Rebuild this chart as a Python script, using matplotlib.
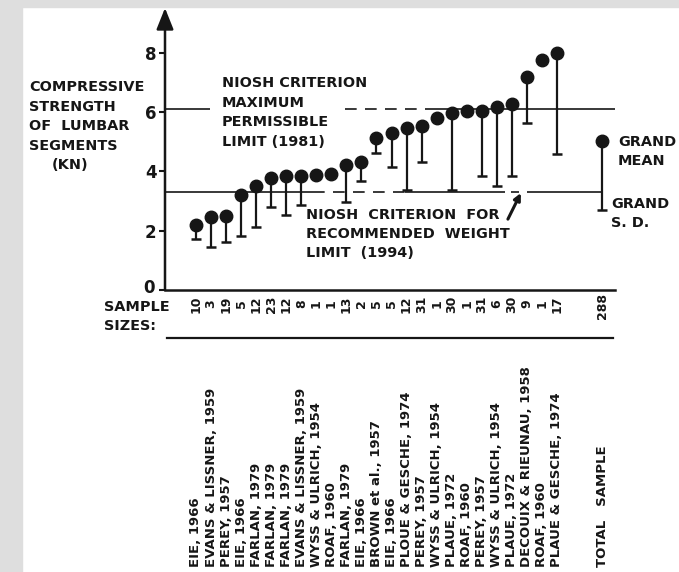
import matplotlib
matplotlib.use("Agg")
import matplotlib.pyplot as plt
import numpy as np
from matplotlib.lines import Line2D
from matplotlib.patches import Rectangle
from matplotlib.transforms import ScaledTranslation, blended_transform_factory

# values
studies = [
    "EIE, 1966", "EVANS & LISSNER, 1959", "PEREY, 1957", "EIE, 1966",
    "FARLAN, 1979", "FARLAN, 1979", "FARLAN, 1979", "EVANS & LISSNER, 1959",
    "WYSS & ULRICH, 1954", "ROAF, 1960", "FARLAN, 1979", "EIE, 1966",
    "BROWN et al., 1957", "EIE, 1966", "PLOUE & GESCHE, 1974", "PEREY, 1957",
    "WYSS & ULRICH, 1954", "PLAUE, 1972", "ROAF, 1960", "PEREY, 1957",
    "WYSS & ULRICH, 1954", "PLAUE, 1972", "DECOUIX & RIEUNAU, 1958",
    "ROAF, 1960", "PLAUE & GESCHE, 1974",
]
sample_sizes = [10, 3, 19, 5, 12, 23, 12, 8, 1, 1, 13, 2, 5, 5, 12, 31, 1,
                30, 1, 31, 6, 30, 9, 1, 17]
mean_kn = [2.2, 2.45, 2.5, 3.22, 3.5, 3.77, 3.85, 3.86, 3.88, 3.9, 4.22, 4.3,
           5.11, 5.28, 5.45, 5.53, 5.8, 5.97, 6.02, 6.03, 6.16, 6.27, 7.18,
           7.75, 7.98]
sd_kn = [0.48, 1.0, 0.88, 1.4, 1.37, 0.97, 1.32, 0.99, np.nan, np.nan, 1.25,
         0.61, 0.48, 1.13, 2.09, 1.22, np.nan, 2.61, np.nan, 2.2, 2.64, 2.42,
         1.56, np.nan, 3.41]
grand_mean = 5.02
grand_sd = 2.32
total_n = 288
niosh_mpl = 6.1   # maximum permissible limit (1981)
niosh_rwl = 3.3   # recommended weight limit (1994)

W, H = 679, 572
INK = "#161616"
GREY = "#dedede"
BIG = 10.4
SMALL = 9.5


def fx(px):
    return px / W


def fy(py):
    return 1 - py / H


def text_block(fig, x, y0, step, lines, **kw):
    for k, line in enumerate(lines):
        fig.text(fx(x), fy(y0 + k * step), line, ha="left", va="center",
                 fontsize=BIG, fontweight="bold", color=INK, **kw)


fig = plt.figure(figsize=(W / 100, H / 100), dpi=100)
fig.add_artist(Rectangle((0, 0), fx(22), 1, transform=fig.transFigure,
                         color=GREY, zorder=-10))
fig.add_artist(Rectangle((0, fy(7)), 1, 1 - fy(7), transform=fig.transFigure,
                         color=GREY, zorder=-10))

ax = fig.add_axes([fx(165), fy(290), fx(615) - fx(165), fy(8) - fy(290)])
ax.set_facecolor("none")
x_lo, x_hi = -2.06, 27.86
ax.set_xlim(x_lo, x_hi)
ax.set_ylim(0, 9.51)
for side in ("top", "right", "left"):
    ax.spines[side].set_visible(False)
ax.spines["bottom"].set_linewidth(1.8)
ax.spines["bottom"].set_color(INK)
ax.set_xticks([])
ax.set_yticks([0, 2, 4, 6, 8])
ax.tick_params(axis="y", direction="out", length=4.5, width=1.5, color=INK,
               pad=1.5, labelsize=12, labelcolor=INK)
for lab in ax.get_yticklabels():
    lab.set_fontweight("bold")
# the "0" sits a little higher, just above SAMPLE
zero = ax.get_yticklabels()[0]
zero.set_transform(zero.get_transform()
                   + ScaledTranslation(-2 / 100, 4 / 100, fig.dpi_scale_trans))

# y axis with arrow head
ax.annotate("", xy=(0, 1), xycoords="axes fraction", xytext=(0, 0),
            arrowprops=dict(arrowstyle="-|>,head_length=0.65,head_width=0.26",
                            mutation_scale=20, lw=1.8, color=INK,
                            shrinkA=0, shrinkB=0))

# NIOSH criterion lines (solid / dashed pieces as in the original)
dash = (0, (7, 5))
line_kw = dict(color=INK, lw=1.2, zorder=1)
ax.hlines(niosh_mpl, x_lo, 0.93, **line_kw)
ax.hlines(niosh_mpl, 9.9, 15.6, linestyles=[dash], **line_kw)
ax.hlines(niosh_mpl, 15.6, 28.0, **line_kw)
ax.hlines(niosh_rwl, x_lo, 7.8, **line_kw)
ax.hlines(niosh_rwl, 7.8, 13.9, linestyles=[dash], **line_kw)
ax.hlines(niosh_rwl, 13.9, 20.55, **line_kw)
ax.hlines(niosh_rwl, 20.95, 21.5, **line_kw)
ax.hlines(niosh_rwl, 22.0, 27.0, **line_kw)

# study means with lower SD whiskers
xs = np.arange(len(mean_kn))
means = np.array(mean_kn)
sds = np.array(sd_kn)
has_sd = np.isfinite(sds)
lows = means[has_sd] - sds[has_sd]
ax.vlines(xs[has_sd], lows, means[has_sd], color=INK, lw=1.6, zorder=2)
ax.plot(xs[has_sd], lows, ls="none", marker="_", ms=7, mew=1.8, color=INK,
        zorder=2)
ax.plot(xs, means, ls="none", marker="o", ms=9, color=INK, zorder=3)

# grand mean / grand SD
gx = 27
ax.vlines(gx, grand_mean - grand_sd, grand_mean, color=INK, lw=1.6, zorder=2)
ax.plot([gx], [grand_mean - grand_sd], ls="none", marker="_", ms=7, mew=1.8,
        color=INK, zorder=2)
ax.plot([gx], [grand_mean], ls="none", marker="o", ms=9, color=INK, zorder=3)

# pointer from the lower label to the RWL line
ax.annotate("", xy=(21.6, niosh_rwl - 0.03), xytext=(20.74, 2.39),
            arrowprops=dict(arrowstyle="-|>,head_length=0.4,head_width=0.2",
                            mutation_scale=10, lw=2.2, color=INK,
                            shrinkA=0, shrinkB=0))

# text blocks
text_block(fig, 29, 87, 19.5, ["COMPRESSIVE", "STRENGTH", "OF  LUMBAR",
                               "SEGMENTS"])
text_block(fig, 52, 165, 19.5, ["(KN)"])
text_block(fig, 222, 83, 19.7, ["NIOSH CRITERION", "MAXIMUM", "PERMISSIBLE",
                                "LIMIT (1981)"])
text_block(fig, 306, 215, 19, ["NIOSH  CRITERION  FOR",
                               "RECOMMENDED  WEIGHT", "LIMIT  (1994)"])
text_block(fig, 618, 142, 19, ["GRAND", "MEAN"])
text_block(fig, 611, 204, 19, ["GRAND", "S. D."])
text_block(fig, 104, 307, 19, ["SAMPLE", "SIZES:"])

# sample sizes and study names under the axis
bt = blended_transform_factory(ax.transData, fig.transFigure)
for x, n in zip(xs, sample_sizes):
    ax.text(x, fy(304), str(n), transform=bt, rotation=90, ha="center",
            va="center", fontsize=9, fontweight="bold", color=INK)
ax.text(gx, fy(306), str(total_n), transform=bt, rotation=90, ha="center",
        va="center", fontsize=9, fontweight="bold", color=INK)

fig.add_artist(Line2D([fx(167), fx(613)], [fy(338), fy(338)],
                      transform=fig.transFigure, color=INK, lw=1.6))

for x, name in zip(xs, studies):
    ax.text(x, fy(567), name, transform=bt, rotation=90, ha="center",
            va="bottom", fontsize=SMALL, fontweight="bold", color=INK)
ax.text(gx, fy(567), "TOTAL   SAMPLE", transform=bt, rotation=90,
        ha="center", va="bottom", fontsize=SMALL, fontweight="bold", color=INK)

fig.savefig("out.png", dpi=100)
